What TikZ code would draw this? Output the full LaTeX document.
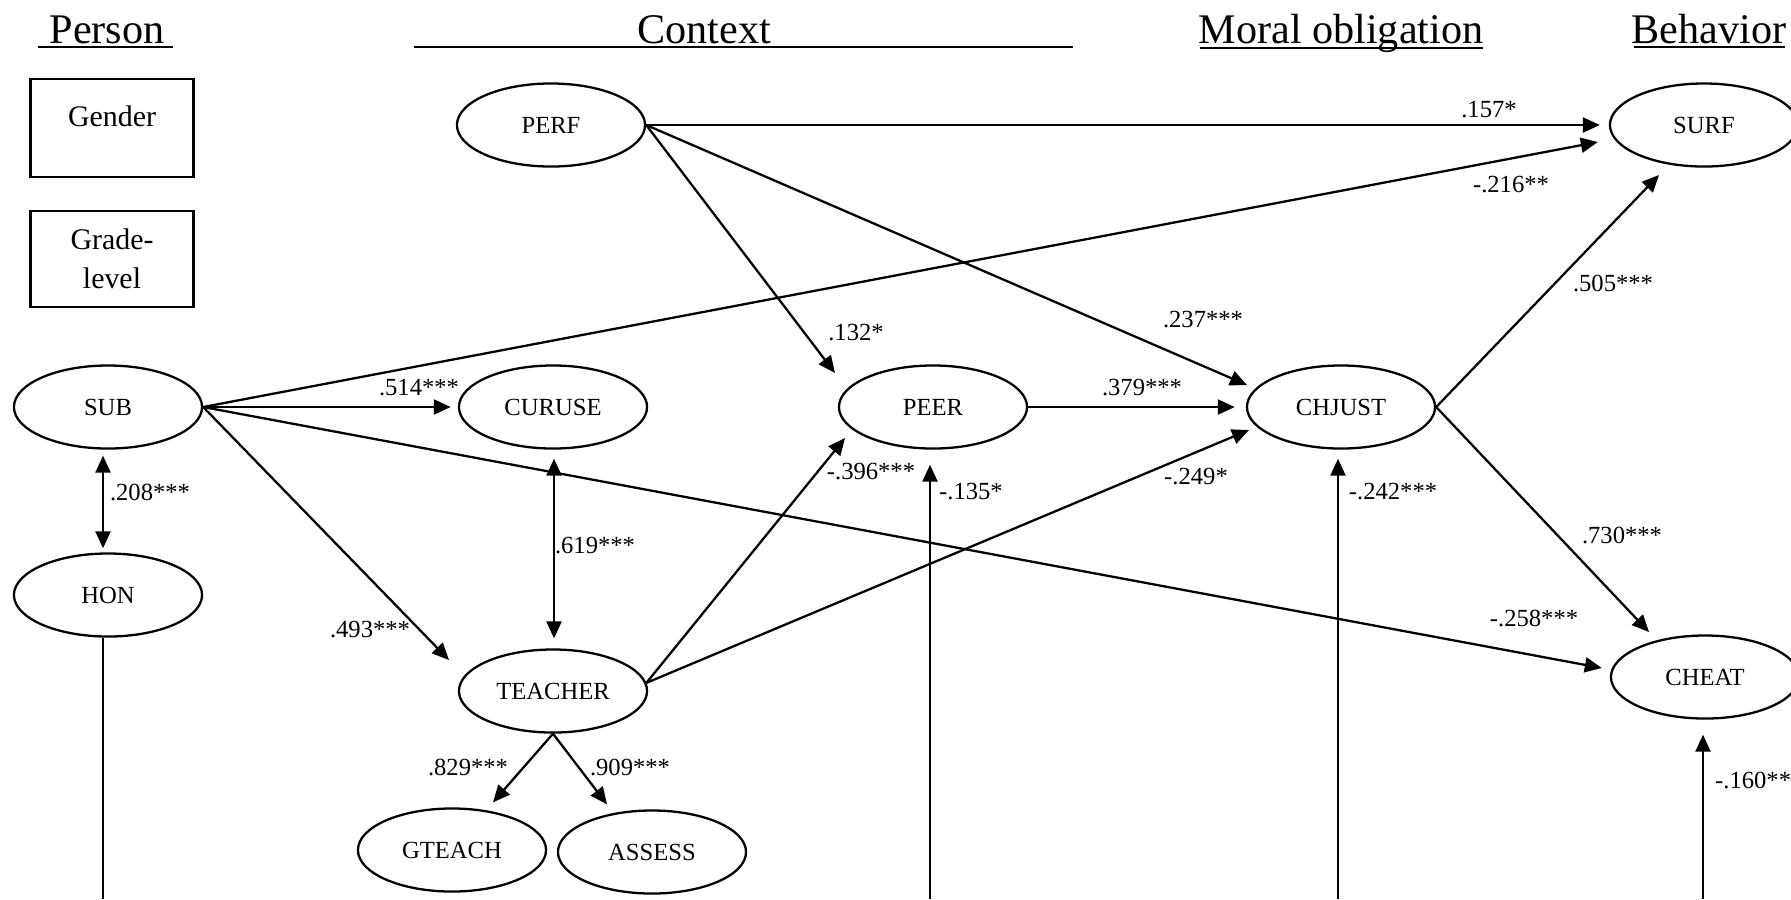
\documentclass[tikz,border=0pt]{standalone}
\usepackage{fontspec}
\setmainfont{Liberation Serif}
\usetikzlibrary{arrows.meta,calc,shapes.geometric}
\begin{document}
\begin{tikzpicture}[x=0.01cm,y=-0.01cm,
  line width=0.65pt,
  latent/.style={draw,ellipse,minimum width=1.88cm,minimum height=0.83cm,inner sep=0pt,
    font=\fontsize{7}{8}\selectfont},
  observed/.style={draw,rectangle,minimum width=1.63cm,inner sep=0pt,align=center,
    font=\fontsize{8.5}{11}\selectfont},
  heading/.style={anchor=base,inner sep=0pt,font=\fontsize{12}{14}\selectfont},
  coef/.style={inner sep=0pt,font=\fontsize{7}{8}\selectfont},
  effect/.style={-{Triangle[length=0.17cm,width=0.15cm]}},
  cov/.style={{Triangle[length=0.17cm,width=0.15cm]}-{Triangle[length=0.17cm,width=0.15cm]}},
]
\useasboundingbox (0,0) rectangle (1791,899);

% column headings
\node[heading] (hPerson)   at (107,43)  {Person};
\node[heading] (hContext)  at (704,43)  {Context};
\node[heading] (hMoral)    at (1341,43) {Moral obligation};
\node[heading] (hBehavior) at (1709,43) {Behavior};
\draw (38,47) -- (173,47);
\draw (414,47) -- (1073,47);
\draw (1200,48) -- (1483,48);
\draw (1634,47) -- (1785,47);

% observed covariates
\node[observed,minimum height=0.98cm,text height=0.2cm,text depth=0.24cm] (gender) at (112,128) {Gender};
\node[observed,minimum height=0.96cm] (grade) at (112,259) {Grade-\\level};

% latent variables
\node[latent] (PERF)    at (551,125)  {PERF};
\node[latent] (SURF)    at (1704,125) {SURF};
\node[latent] (SUB)     at (108,407)  {SUB};
\node[latent] (CURUSE)  at (553,407)  {CURUSE};
\node[latent] (PEER)    at (933,407)  {PEER};
\node[latent] (CHJUST)  at (1341,407) {CHJUST};
\node[latent] (HON)     at (108,595)  {HON};
\node[latent] (TEACHER) at (553,691)  {TEACHER};
\node[latent] (CHEAT)   at (1705,677) {CHEAT};
\node[latent] (GTEACH)  at (452,850)  {GTEACH};
\node[latent] (ASSESS)  at (652,852)  {ASSESS};

% structural paths
\draw[effect] (PERF.east) -- ($(SURF.west)+(-9,0)$);
\draw[effect] (SUB.east) -- ($(SURF.west)+(-11,17)$);
\draw[effect] (PERF.east) -- ($(PEER.center)+(-98,-34)$);
\draw[effect] (PERF.east) -- ($(CHJUST.center)+(-94,-22)$);
\draw[effect] (SUB.east) -- ($(CURUSE.west)+(-7,0)$);
\draw[effect] (SUB.east) -- ($(TEACHER.center)+(-104,-31)$);
\draw[effect] (SUB.east) -- ($(CHEAT.west)+(-8,-9)$);
\draw[effect] (PEER.east) -- ($(CHJUST.west)+(-11,0)$);
\draw[effect] (TEACHER.5) -- ($(PEER.center)+(-88,31)$);
\draw[effect] (TEACHER.5) -- ($(CHJUST.center)+(-92,23)$);
\draw[effect] (CHJUST.east) -- ($(SURF.center)+(-45,50)$);
\draw[effect] (CHJUST.east) -- ($(CHEAT.center)+(-56,-45)$);
\draw[effect] (TEACHER.south) -- ($(GTEACH.north)+(41,-5)$);
\draw[effect] (TEACHER.south) -- ($(ASSESS.north)+(-45,-5)$);

% covariances
\draw[cov] ($(SUB.south)+(-5,6)$) -- ($(HON.north)+(-5,-4)$);
\draw[cov] ($(CURUSE.south)+(1,9)$) -- ($(TEACHER.north)+(1,-10)$);

% paths entering from below
\coordinate (honEnd)   at (103,899);
\coordinate (peerIn)   at (930,899);
\coordinate (chjustIn) at (1338,899);
\coordinate (cheatIn)  at (1703,899);
\draw ($(HON.south)+(-5,0)$) -- (honEnd);
\draw[effect] (peerIn) -- ($(PEER.south)+(-3,15)$);
\draw[effect] (chjustIn) -- ($(CHJUST.south)+(-3,9)$);
\draw[effect] (cheatIn) -- ($(CHEAT.south)+(-2,15)$);

% coefficients
\node[coef] (k157) at (1489,110) {.157*};
\node[coef] (k216) at (1511,185) {-.216**};
\node[coef] (k505) at (1613,283) {.505***};
\node[coef] (k237) at (1203,320) {.237***};
\node[coef] (k132) at (856,333)  {.132*};
\node[coef] (k514) at (419,388)  {.514***};
\node[coef] (k379) at (1142,388) {.379***};
\node[coef] (k208) at (150,492)  {.208***};
\node[coef] (k396) at (871,472)  {-.396***};
\node[coef] (k135) at (971,492)  {-.135*};
\node[coef] (k249) at (1196,477) {-.249*};
\node[coef] (k242) at (1393,492) {-.242***};
\node[coef] (k619) at (595,546)  {.619***};
\node[coef] (k730) at (1622,535) {.730***};
\node[coef] (k493) at (370,630)  {.493***};
\node[coef] (k258) at (1534,618) {-.258***};
\node[coef] (k829) at (468,767)  {.829***};
\node[coef] (k909) at (630,767)  {.909***};
\node[coef,anchor=west] (k160) at (1714,780) {-.160**};
\end{tikzpicture}
\end{document}
